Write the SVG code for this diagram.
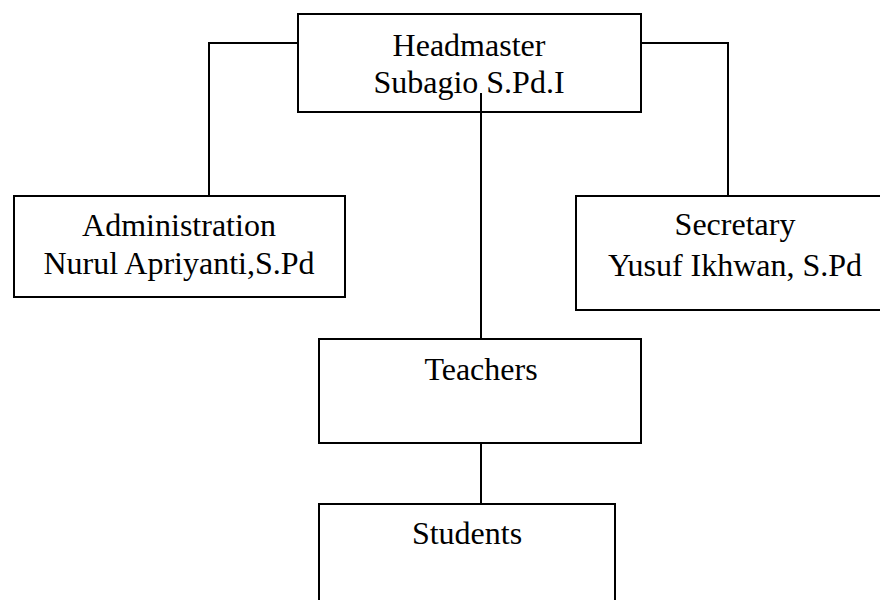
<svg xmlns="http://www.w3.org/2000/svg" width="880" height="600" viewBox="0 0 880 600">
<style>
.box{fill:#fff;stroke:#000;stroke-width:2}
.c{fill:none;stroke:#000;stroke-width:2}
text{font-family:"Liberation Serif","Times New Roman",serif;font-size:32px;fill:#000;text-anchor:middle}
</style>
<rect width="880" height="600" fill="#fff"/>
<g id="connectors">
<polyline class="c" points="298,43 209,43 209,196"/>
<polyline class="c" points="641,43 728,43 728,196"/>
<line class="c" x1="481" y1="93" x2="481" y2="339"/>
<line class="c" x1="481" y1="443" x2="481" y2="504"/>
</g>
<g id="headmaster">
<rect class="box" x="298" y="14" width="343" height="98" style="fill:none"/>
<text x="469" y="56">Headmaster</text>
<text x="469" y="93">Subagio S.Pd.I</text>
</g>
<g id="administration">
<rect class="box" x="14" y="196" width="331" height="101"/>
<text x="179" y="236">Administration</text>
<text x="179" y="274">Nurul Apriyanti,S.Pd</text>
</g>
<g id="secretary">
<rect class="box" x="576" y="196" width="320" height="114"/>
<text x="735" y="235">Secretary</text>
<text x="735" y="276">Yusuf Ikhwan, S.Pd</text>
</g>
<g id="teachers">
<rect class="box" x="319" y="339" width="322" height="104"/>
<text x="481" y="380">Teachers</text>
</g>
<g id="students">
<rect class="box" x="319" y="504" width="296" height="120"/>
<text x="467" y="544">Students</text>
</g>
</svg>
